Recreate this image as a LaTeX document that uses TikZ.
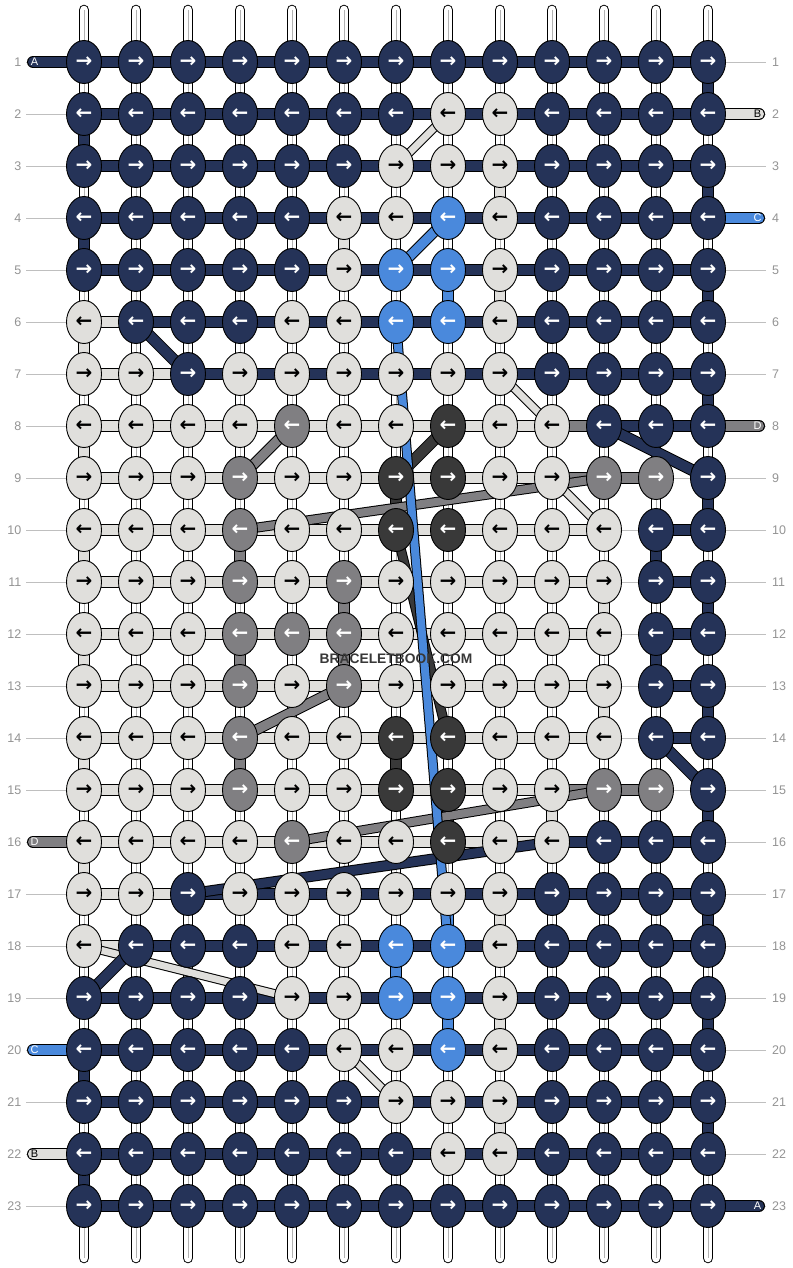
\documentclass[tikz,border=0pt]{standalone}
\usepackage{fontspec}
\setmainfont{Liberation Sans}
\newfontfamily\arrowfont{DejaVu Sans}
\usetikzlibrary{shapes.geometric}
\definecolor{cN}{HTML}{253358}
\definecolor{cW}{HTML}{E0DFDC}
\definecolor{cB}{HTML}{4A89DC}
\definecolor{cG}{HTML}{807F82}
\definecolor{cK}{HTML}{393939}
\colorlet{aN}{white}
\colorlet{aW}{black}
\colorlet{aB}{white}
\colorlet{aG}{white}
\colorlet{aK}{white}
\newcommand\thr[4][10]{%
  \draw[black,line width=#1+2] (#2)--(#3);
  \draw[#4,line width=#1] (#2)--(#3);}
\begin{document}
\begin{tikzpicture}[x=1pt,y=-1pt,
  knot/.style={ellipse,draw=black,line width=0.9,minimum width=35,minimum height=43,inner sep=0,
    font=\arrowfont\bfseries\fontsize{20}{20}\selectfont},
  rowlab/.style={font=\fontsize{12.5}{13}\selectfont,text=black!42,inner sep=0},
  endlab/.style={font=\fontsize{11}{11}\selectfont,inner sep=0},
  guide/.style={draw=black!25,line width=0.9},
  wmark/.style={font=\bfseries\fontsize{13.8}{14}\selectfont,text=black!78,inner sep=0}]
\fill[white] (0,0) rectangle (792,1268);
\useasboundingbox (0,0) rectangle (792,1268);
% knot centres
\foreach \r in {1,...,23}{\foreach \c in {1,...,13}{
  \coordinate (p-\r-\c) at ({84+52*(\c-1)},{62+52*(\r-1)});}}
% row guide lines and numbers
\foreach \r in {1,...,23}{
  \coordinate (gl-\r) at (26,{62+52*(\r-1)});
  \coordinate (gr-\r) at (766,{62+52*(\r-1)});
  \draw[guide] (gl-\r)--(gr-\r);
  \node[rowlab,anchor=east] (ln-\r) at (21.5,{62+52*(\r-1)}) {\r};
  \node[rowlab,anchor=west] (rn-\r) at (772,{62+52*(\r-1)}) {\r};
}
% vertical base strands
\foreach \c in {1,...,13}{
  \coordinate (st-\c) at ({84+52*(\c-1)},10);
  \coordinate (sb-\c) at ({84+52*(\c-1)},1258);
  \draw[black,line width=10.6,line cap=round] (st-\c)--(sb-\c);
  \draw[white,line width=8.6,line cap=round] (st-\c)--(sb-\c);
  \draw[black!30,line width=1] (st-\c)--(sb-\c);
}
% horizontal thread segments
\foreach \row [count=\r] in {
 {N,N,N,N,N,N,N,N,N,N,N,N},
 {N,N,N,N,N,N,N,N,N,N,N,N},
 {N,N,N,N,N,N,N,N,N,N,N,N},
 {N,N,N,N,N,N,N,N,N,N,N,N},
 {N,N,N,N,N,N,N,N,N,N,N,N},
 {W,N,N,N,N,N,N,N,N,N,N,N},
 {W,W,N,N,N,N,N,N,N,N,N,N},
 {W,W,W,W,W,W,W,W,W,G,N,N},
 {W,W,W,W,W,W,W,W,W,G,G,X},
 {W,W,W,W,W,W,W,W,W,W,X,N},
 {W,W,W,W,W,W,W,W,W,W,X,N},
 {W,W,W,W,W,W,W,W,W,W,X,N},
 {W,W,W,W,W,W,W,W,W,W,X,N},
 {W,W,W,W,W,W,W,W,W,W,X,N},
 {W,W,W,W,W,W,W,W,W,G,G,X},
 {W,W,W,W,W,W,W,W,W,N,N,N},
 {W,W,N,N,N,N,N,N,N,N,N,N},
 {W,N,N,N,N,N,N,N,N,N,N,N},
 {N,N,N,N,N,N,N,N,N,N,N,N},
 {N,N,N,N,N,N,N,N,N,N,N,N},
 {N,N,N,N,N,N,N,N,N,N,N,N},
 {N,N,N,N,N,N,N,N,N,N,N,N},
 {N,N,N,N,N,N,N,N,N,N,N,N}}{
  \foreach \s [count=\c] in \row {
    \if\s X\else
      \pgfmathtruncatemacro\cn{\c+1}
      \thr{p-\r-\c}{p-\r-\cn}{c\s}
    \fi}}
% vertical thread segments (gap / column / colour)
\foreach \g/\c/\k in {1/13/N, 2/1/N, 3/13/N, 3/9/W, 4/1/N, 4/6/W, 5/13/N, 5/8/B, 5/9/W,
  6/1/W, 7/13/N, 8/1/W, 9/13/N, 9/7/K, 10/1/W, 10/12/N, 10/4/G, 11/13/N, 11/11/W, 11/6/G,
  12/1/W, 12/12/N, 12/4/G, 12/6/G, 13/13/N, 13/11/W, 14/1/W, 14/7/K, 14/4/G, 15/13/N,
  15/10/W, 15/8/K, 16/1/W, 17/13/N, 17/8/B, 17/9/W, 18/7/B, 19/13/N, 19/8/B, 19/9/W,
  20/1/N, 21/13/N, 21/9/W, 22/1/N}{
  \pgfmathtruncatemacro\gn{\g+1}
  \thr{p-\g-\c}{p-\gn-\c}{c\k}}
% thread ends with letters
\foreach \r/\k/\lab/\lc in {1/N/A/white, 16/G/D/white, 20/B/C/white, 22/W/B/black}{
  \coordinate (eL-\r) at (33,{62+52*(\r-1)});
  \draw[black,line width=12,line cap=round] (eL-\r)--(p-\r-1);
  \draw[c\k,line width=10,line cap=round] (eL-\r)--(p-\r-1);
  \node[endlab,text=\lc] (tL-\r) at (34.5,{62+52*(\r-1)}) {\lab};}
\foreach \r/\k/\lab/\lc in {2/W/B/black, 4/B/C/white, 8/G/D/white, 23/N/A/white}{
  \coordinate (eR-\r) at (759,{62+52*(\r-1)});
  \draw[black,line width=12,line cap=round] (eR-\r)--(p-\r-13);
  \draw[c\k,line width=10,line cap=round] (eR-\r)--(p-\r-13);
  \node[endlab,text=\lc] (tR-\r) at (757.5,{62+52*(\r-1)}) {\lab};}
% diagonal thread moves
\foreach \ra/\ca/\rb/\cb/\k/\w in {2/8/3/7/W/7, 4/8/5/7/B/9, 6/2/7/3/N/10, 7/9/8/10/W/7,
  8/11/9/13/N/10, 8/8/9/7/K/10, 8/5/9/4/G/9, 9/11/10/4/G/8, 9/10/10/11/W/7, 10/7/14/8/K/8,
  13/6/14/4/G/9, 14/12/15/13/N/10, 15/11/16/5/G/8, 16/10/17/3/N/9, 18/1/19/5/W/7,
  18/2/19/1/N/10, 20/6/21/7/W/7, 6/7/18/8/B/8}{
  \thr[\w]{p-\ra-\ca}{p-\rb-\cb}{c\k}}
% knots
\foreach \row [count=\r] in {
 {N,N,N,N,N,N,N,N,N,N,N,N,N},
 {N,N,N,N,N,N,N,W,W,N,N,N,N},
 {N,N,N,N,N,N,W,W,W,N,N,N,N},
 {N,N,N,N,N,W,W,B,W,N,N,N,N},
 {N,N,N,N,N,W,B,B,W,N,N,N,N},
 {W,N,N,N,W,W,B,B,W,N,N,N,N},
 {W,W,N,W,W,W,W,W,W,N,N,N,N},
 {W,W,W,W,G,W,W,K,W,W,N,N,N},
 {W,W,W,G,W,W,K,K,W,W,G,G,N},
 {W,W,W,G,W,W,K,K,W,W,W,N,N},
 {W,W,W,G,W,G,W,W,W,W,W,N,N},
 {W,W,W,G,G,G,W,W,W,W,W,N,N},
 {W,W,W,G,W,G,W,W,W,W,W,N,N},
 {W,W,W,G,W,W,K,K,W,W,W,N,N},
 {W,W,W,G,W,W,K,K,W,W,G,G,N},
 {W,W,W,W,G,W,W,K,W,W,N,N,N},
 {W,W,N,W,W,W,W,W,W,N,N,N,N},
 {W,N,N,N,W,W,B,B,W,N,N,N,N},
 {N,N,N,N,W,W,B,B,W,N,N,N,N},
 {N,N,N,N,N,W,W,B,W,N,N,N,N},
 {N,N,N,N,N,N,W,W,W,N,N,N,N},
 {N,N,N,N,N,N,N,W,W,N,N,N,N},
 {N,N,N,N,N,N,N,N,N,N,N,N,N}}{
  \foreach \k [count=\c] in \row {
    \node[knot,fill=c\k,text=a\k] (k-\r-\c) at (p-\r-\c) {\ifodd\r\relax →\else ←\fi};}}
% watermark
\node[wmark] (wm) at (396,659) {BRACELETBOOK.COM};
\end{tikzpicture}
\end{document}
